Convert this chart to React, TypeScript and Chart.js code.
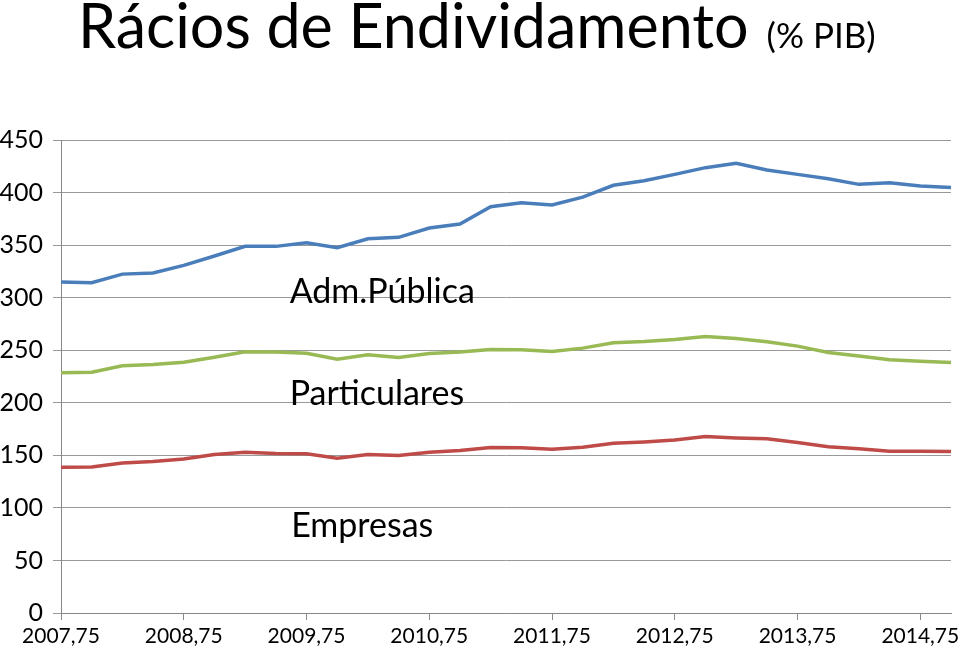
import React, { useEffect, useRef } from "react";
import { Chart, registerables } from "chart.js";

Chart.register(...registerables);

const categories = [
  "2007,75", "2008", "2008,25", "2008,5", "2008,75", "2009", "2009,25", "2009,5",
  "2009,75", "2010", "2010,25", "2010,5", "2010,75", "2011", "2011,25", "2011,5",
  "2011,75", "2012", "2012,25", "2012,5", "2012,75", "2013", "2013,25", "2013,5",
  "2013,75", "2014", "2014,25", "2014,5", "2014,75", "2015",
];

const admPublica = [
  314.8, 314.2, 322.4, 323.4, 330.7, 339.6, 348.8, 348.8, 352.3, 347.5,
  356.1, 357.4, 366.2, 370.0, 386.6, 390.4, 388.1, 395.7, 406.9, 411.3,
  417.3, 423.7, 427.8, 421.5, 417.3, 413.2, 407.8, 409.4, 406.2, 404.7,
];

const particulares = [
  228.5, 229.1, 235.2, 236.4, 238.6, 243.4, 248.5, 248.2, 247.2, 241.5,
  245.6, 243.1, 246.9, 248.2, 250.7, 250.4, 248.8, 252.0, 257.1, 258.3,
  260.2, 263.1, 261.2, 258.0, 253.9, 247.9, 244.4, 240.9, 239.6, 238.3,
];

const empresas = [
  138.7, 139.0, 142.8, 144.1, 146.6, 150.7, 152.9, 151.7, 151.4, 147.2,
  150.7, 149.8, 152.9, 154.5, 157.4, 157.1, 155.8, 157.7, 161.5, 162.8,
  164.7, 167.9, 166.6, 165.7, 162.2, 158.1, 156.2, 153.9, 153.9, 153.6,
];

const seriesNames = ["Adm.Pública", "Particulares", "Empresas"];
const titleMain = "Rácios de Endividamento";
const titleSub = "(% PIB)";

// label anchor: [category index, value at baseline]
const labelAnchors: [number, number][] = [
  [7.45, 295],
  [7.45, 198],
  [7.5, 72],
];

const FONT = "Lato, 'Open Sans', sans-serif";

const textPlugin = {
  id: "customText",
  afterDraw(chart: any) {
    const ctx = chart.ctx;
    ctx.save();
    ctx.fillStyle = "#000";
    ctx.textBaseline = "alphabetic";
    ctx.textAlign = "left";
    ctx.font = `61px ${FONT}`;
    const x0 = 78;
    ctx.fillText(titleMain, x0, 48);
    const w = ctx.measureText(titleMain).width;
    ctx.font = `35px ${FONT}`;
    ctx.fillText(titleSub, x0 + w + 18, 48);

    const xs = chart.scales.x;
    const ys = chart.scales.y;
    ctx.font = `34px ${FONT}`;
    seriesNames.forEach((name, i) => {
      const [ci, v] = labelAnchors[i];
      const px = xs.left + (xs.getPixelForValue(1) - xs.getPixelForValue(0)) * ci;
      ctx.fillText(name, px, ys.getPixelForValue(v));
    });
    ctx.restore();
  },
};

export default function App() {
  const ref = useRef<HTMLCanvasElement>(null);
  useEffect(() => {
    document.body.style.margin = "0";
    const canvas = ref.current!;
    const chart = new Chart(canvas, {
      type: "line",
      data: {
        labels: categories,
        datasets: [
          { label: seriesNames[0], data: admPublica, borderColor: "#4A7EBB", backgroundColor: "#4A7EBB" },
          { label: seriesNames[1], data: particulares, borderColor: "#98B954", backgroundColor: "#98B954" },
          { label: seriesNames[2], data: empresas, borderColor: "#BE4B48", backgroundColor: "#BE4B48" },
        ].map((d) => ({ ...d, borderWidth: 3.5, pointRadius: 0, tension: 0, fill: false })),
      },
      options: {
        animation: false,
        responsive: false,
        layout: { padding: { top: 140, right: 9, left: 0, bottom: 0 } },
        plugins: { legend: { display: false }, title: { display: false }, tooltip: { enabled: false } },
        scales: {
          x: {
            offset: false,
            grid: {
              drawOnChartArea: false,
              tickLength: 7,
              color: "#888",
            },
            border: { color: "#888" },
            ticks: {
              autoSkip: false,
              maxRotation: 0,
              color: "#000",
              font: { family: FONT, size: 21 },
              padding: 4,
              callback: (_v: any, i: number) => (i % 4 === 0 ? categories[i] : null),
            },
            afterFit: (s: any) => {
              s.height = 44;
              s.paddingRight = 0;
              s.paddingLeft = 0;
            },
          },
          y: {
            min: 0,
            max: 450,
            grid: { color: "#999", tickLength: 8 },
            border: { color: "#888" },
            ticks: {
              stepSize: 50,
              color: "#000",
              font: { family: FONT, size: 25 },
              padding: 10,
            },
            afterFit: (s: any) => { s.width = 61; },
          },
        },
      },
      plugins: [textPlugin],
    });
    return () => chart.destroy();
  }, []);
  return (
    <div style={{ position: "absolute", left: 0, top: 0, width: 960, height: 657 }}>
      <canvas ref={ref} width={960} height={657} style={{ width: 960, height: 657 }} />
    </div>
  );
}
